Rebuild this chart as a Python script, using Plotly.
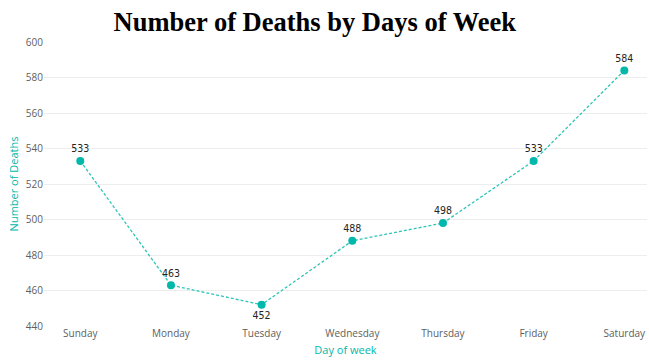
import plotly.graph_objects as go

days = ["Sunday", "Monday", "Tuesday", "Wednesday", "Thursday", "Friday", "Saturday"]
deaths = [533, 463, 452, 488, 498, 533, 584]
y_ticks = [440, 460, 480, 500, 520, 540, 560, 580, 600]

teal = "#01B8AA"
label_pos = ["top center", "top center", "bottom center", "top center",
             "top center", "top center", "top center"]

fig = go.Figure(
    go.Scatter(
        x=days,
        y=deaths,
        mode="lines+markers+text",
        line=dict(color="#2EC4B8", width=1.3, dash="3px,2px"),
        marker=dict(color=teal, size=8),
        text=[str(v) for v in deaths],
        textposition=label_pos,
        textfont=dict(family="DejaVu Sans Condensed, DejaVu Sans", size=10.5, color="#252423"),
        cliponaxis=False,
        hoverinfo="x+y",
    )
)

fig.update_layout(
    width=649,
    height=360,
    margin=dict(l=44, r=2, t=42, b=34),
    paper_bgcolor="white",
    plot_bgcolor="white",
    showlegend=False,
    title=dict(
        text="<b>Number of Deaths by Days of Week</b>",
        x=0.485,
        xanchor="center",
        y=0.94,
        yanchor="middle",
        font=dict(family="Liberation Serif, Times New Roman, serif", size=26.5, color="black"),
    ),
    xaxis=dict(
        range=[-0.4, 6.25],
        showgrid=False,
        zeroline=False,
        showline=False,
        ticks="",
        tickfont=dict(family="Open Sans, sans-serif", size=10, color="#605E5C"),
        title=dict(text="Day of week", font=dict(family="Open Sans, sans-serif", size=11, color=teal), standoff=7),
    ),
    yaxis=dict(
        range=[440, 600],
        tickvals=y_ticks,
        showgrid=True,
        gridcolor="#EDEDED",
        gridwidth=1,
        zeroline=False,
        showline=False,
        ticks="",
        tickfont=dict(family="Open Sans, sans-serif", size=10, color="#605E5C"),
        title=dict(text="Number of Deaths", font=dict(family="Open Sans, sans-serif", size=11, color=teal), standoff=4),
    ),
)

fig.write_html("out.html")
